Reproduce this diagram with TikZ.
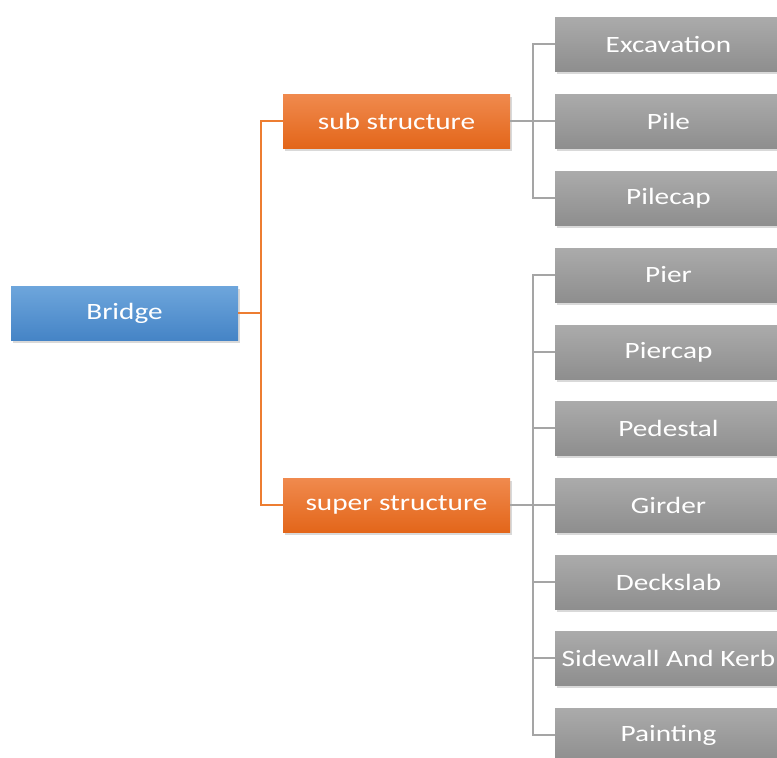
\documentclass[tikz,border=0pt]{standalone}
\usepackage{fontspec}
\setmainfont[FakeStretch=1.25]{Carlito}
\usetikzlibrary{shadows}
\definecolor{bluetop}{HTML}{6EA6DC}
\definecolor{bluebot}{HTML}{4584C6}
\definecolor{orangetop}{HTML}{F08A4E}
\definecolor{orangebot}{HTML}{E3661A}
\definecolor{graytop}{HTML}{ABABAB}
\definecolor{graybot}{HTML}{8E8E8E}
\definecolor{orangeline}{HTML}{ED7D31}
\definecolor{grayline}{HTML}{A5A5A5}
\tikzset{
	box/.style={minimum width=227pt, minimum height=54pt, inner sep=0pt, text=white,
		font=\fontsize{23.4}{27}\selectfont,
		drop shadow={opacity=0.3, shadow xshift=2pt, shadow yshift=-3pt}},
	rootbox/.style={box, top color=bluetop, bottom color=bluebot},
	groupbox/.style={box, top color=orangetop, bottom color=orangebot},
	itembox/.style={box, top color=graytop, bottom color=graybot},
	orangelink/.style={draw=orangeline, line width=1.2pt},
	graylink/.style={draw=grayline, line width=1.2pt}
}
\begin{document}
\begin{tikzpicture}[x=1pt,y=-1pt]
		\useasboundingbox (0,0) rectangle (777,758);
		\clip (0,0) rectangle (777,758);
		% main node and the two groups
		\node[rootbox] (bridge) at (124.5,313) {Bridge};
		\node[groupbox] (sub) at (396.5,121) {sub structure};
		\node[groupbox] (super) at (396.5,505) {super structure};
		% items
		\node[itembox] (excavation) at (668.5,44) {Excavation};
		\node[itembox] (pile) at (668.5,121) {Pile};
		\node[itembox] (pilecap) at (668.5,198) {Pilecap};
		\node[itembox] (pier) at (668.5,275) {Pier};
		\node[itembox] (piercap) at (668.5,352) {Piercap};
		\node[itembox] (pedestal) at (668.5,428) {Pedestal};
		\node[itembox] (girder) at (668.5,505) {Girder};
		\node[itembox] (deckslab) at (668.5,582) {Deckslab};
		\node[itembox] (sidewall) at (668.5,658) {Sidewall And Kerb};
		\node[itembox] (painting) at (668.5,735) {Painting};
		% junctions
		\coordinate (jb) at (261,313);
		\coordinate (js) at (533,121);
		\coordinate (jp) at (533,505);
		\draw[orangelink] (bridge.east) -- (jb);
		\draw[orangelink] (jb) |- (sub.west);
		\draw[orangelink] (jb) |- (super.west);
		\draw[graylink] (sub.east) -- (js);
		\foreach \n in {excavation,pile,pilecap}
			\draw[graylink] (js) |- (\n.west);
		\draw[graylink] (super.east) -- (jp);
		\foreach \n in {pier,piercap,pedestal,girder,deckslab,sidewall,painting}
			\draw[graylink] (jp) |- (\n.west);
	\end{tikzpicture}
\end{document}
